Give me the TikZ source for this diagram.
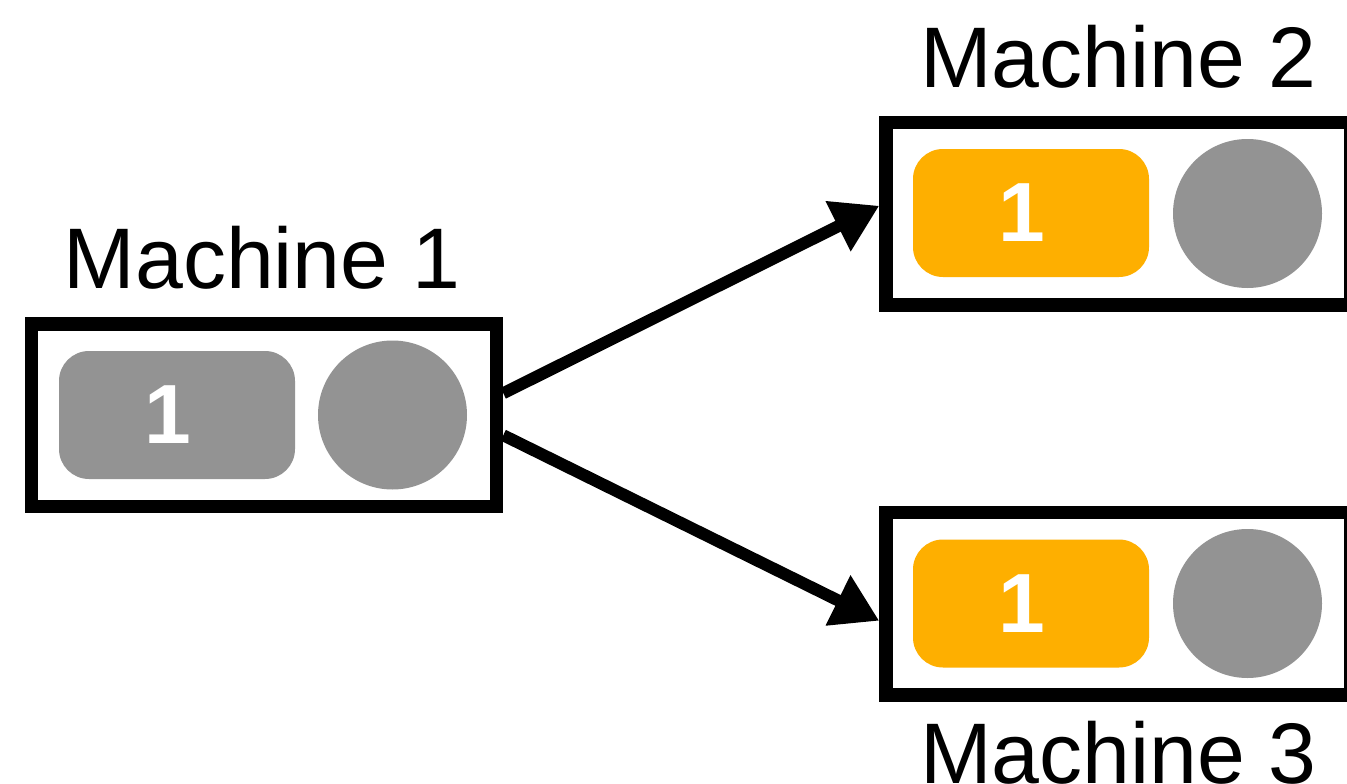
\documentclass[tikz,border=0pt]{standalone}
\usepackage{fontspec}
\setmainfont{Liberation Sans}
\usetikzlibrary{arrows.meta}
\definecolor{tokgray}{HTML}{939393}
\definecolor{tokorange}{HTML}{FEAF00}
\tikzset{
  machine/.style={draw=black, line width=13.5pt, fill=white, minimum width=465pt, minimum height=182.5pt, inner sep=0pt},
  token/.style={rounded corners=30pt, minimum width=236pt, minimum height=128pt, inner sep=0pt, text=white, font=\fontsize{84}{100}\selectfont\bfseries},
  slot/.style={circle, fill=tokgray, minimum size=149pt, inner sep=0pt},
  mlabel/.style={inner sep=0pt, anchor=base, font=\fontsize{86}{100}\selectfont},
  arr/.style={line width=12pt, -{Triangle[length=46pt, width=53pt]}}
}
\begin{document}
\begin{tikzpicture}[x=1pt, y=-1pt]
\useasboundingbox (0,0) rectangle (1347,784);
\clip (0,0) rectangle (1347,784);
% boxes
\node[machine] (m1) at (264,415.25) {};
\node[machine] (m2) at (1118.5,213.75) {};
\node[machine] (m3) at (1118.5,603.75) {};
% contents
\node[token, fill=tokgray] (m1t) at (177,415) {\hspace*{-18pt}1};
\node[slot] (m1c) at (392.5,415) {};
\node[token, fill=tokorange] (m2t) at (1031,213) {\hspace*{-18pt}1};
\node[slot] (m2c) at (1247.5,213.5) {};
\node[token, fill=tokorange] (m3t) at (1031,603.5) {\hspace*{-18pt}1};
\node[slot] (m3c) at (1247.5,603.5) {};
% labels
\node[mlabel] (l1) at (262,288) {Machine 1};
\node[mlabel] (l2) at (1118.5,88) {Machine 2};
\node[mlabel] (l3) at (1118.5,783) {Machine 3};
% arrows
\draw[arr] ([yshift=22pt]m1.east) -- ([yshift=8pt]m2.west);
\draw[arr] ([yshift=-20pt]m1.east) -- ([yshift=-17pt]m3.west);
\end{tikzpicture}
\end{document}
